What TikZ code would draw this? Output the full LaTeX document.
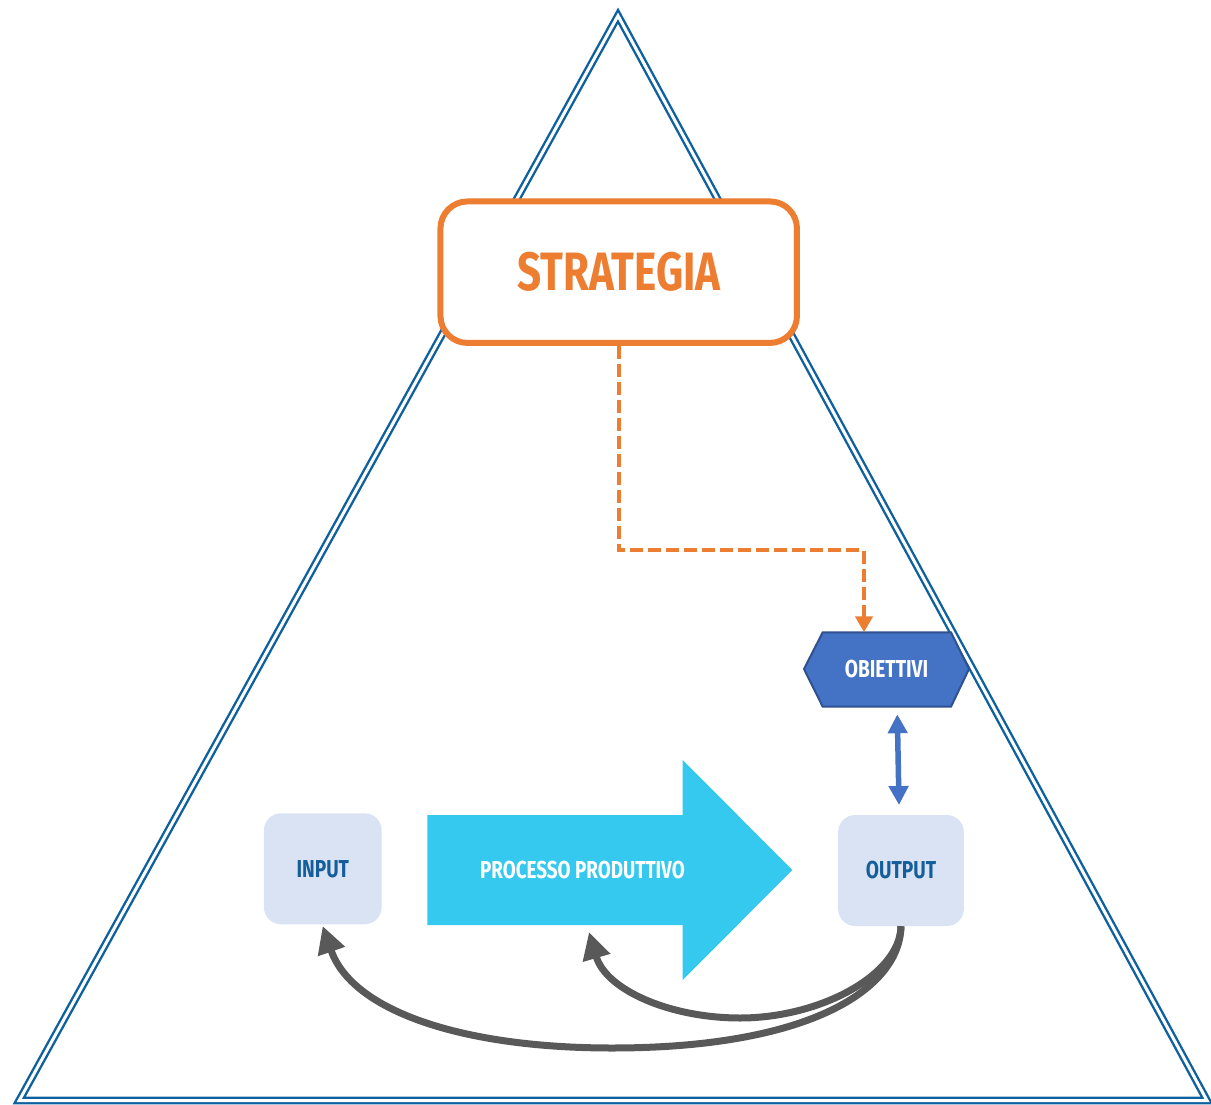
\documentclass[tikz,border=0pt]{standalone}
\usepackage{fontspec}
\setmainfont{Fira Sans}
\newfontfamily\cond[FakeStretch=0.78]{Fira Sans}
\usetikzlibrary{arrows.meta,calc}
\definecolor{triblue}{RGB}{15,96,158}
\definecolor{strorange}{RGB}{237,125,49}
\definecolor{objfill}{RGB}{68,114,196}
\definecolor{objedge}{RGB}{47,82,143}
\definecolor{boxfill}{RGB}{218,227,243}
\definecolor{boxtext}{RGB}{20,95,155}
\definecolor{proccyan}{RGB}{54,201,239}
\definecolor{darkgray}{RGB}{89,89,89}
\tikzset{
  lbl/.style={font=\cond\bfseries\fontsize{24.5}{28}\selectfont, inner sep=0pt},
  iobox/.style={fill=boxfill, rounded corners=17pt, text=boxtext, lbl},
  loopline/.style={draw=darkgray, line width=7pt, -{Triangle[length=27pt,width=27pt]}},
}
\begin{document}
\begin{tikzpicture}[x=1pt,y=-1pt]
\useasboundingbox (0,0) rectangle (1211,1105);
% triangle
\draw[triblue, line width=2.4pt, double=white, double distance=3pt, line join=miter]
  (618,15.7) -- (19.2,1100.5) -- (1207,1100.5) -- cycle;
% strategia
\node[draw=strorange, fill=white, line width=6pt, rounded corners=27pt,
      minimum width=356.5pt, minimum height=141.5pt, inner sep=0pt,
      text=strorange, font=\cond\bfseries\fontsize{54}{60}\selectfont]
      (strat) at (618.7,272.2) {STRATEGIA};
% objectives hexagon
\path[fill=objfill, draw=objedge, line width=2pt]
  (804,669) -- (822.7,632.3) -- (951,632.3) -- (969,669) -- (951,706.7) -- (822.7,706.7) -- cycle;
\node[lbl, text=white] (obj) at (886.5,669) {OBIETTIVI};
\coordinate (objtop) at (864,632.3);
% dashed connector
\draw[strorange, line width=4pt, dash pattern=on 13pt off 5pt,
      -{Triangle[length=16pt,width=17pt]}]
  (strat.south) |- ($(objtop)+(0,-82)$) -- (objtop);
% input / output
\node[iobox, minimum width=117.7pt, minimum height=111pt] (inp) at (322.8,868.8) {INPUT};
\node[iobox, minimum width=125.7pt, minimum height=111pt] (out) at (901,870.5) {OUTPUT};
% process arrow
\path[fill=proccyan]
  (427.3,815) -- (682.7,815) -- (682.7,760) -- (792.3,870) -- (682.7,980)
  -- (682.7,925) -- (427.3,925) -- cycle;
\node[lbl, text=white, xscale=0.985] (proc) at (582.5,870) {PROCESSO PRODUTTIVO};
% double arrow objectives <-> output
\coordinate (da1) at (897.3,714.3);
\coordinate (da2) at (899,805);
\draw[objfill, line width=5.5pt,
      {Triangle[length=19pt,width=19pt]}-{Triangle[length=19pt,width=19pt]}]
  (da1) -- (da2);
% feedback loops
\coordinate (tipin) at (322.7,926);
\coordinate (tipproc) at (589,932);
\draw[loopline] (out.south) .. controls (900,988) and (812,1048) .. (612,1048)
  .. controls (462,1048) and (352,1011) .. (tipin);
\draw[loopline] (out.south) .. controls (900,975) and (820,1018) .. (740,1018)
  .. controls (670,1018) and (606,990) .. (tipproc);
\end{tikzpicture}
\end{document}
